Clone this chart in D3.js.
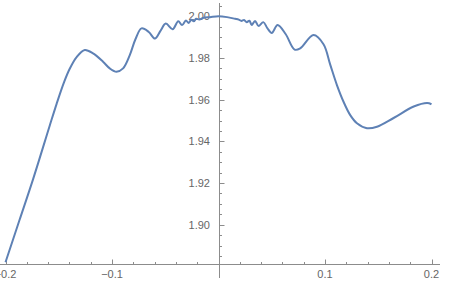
<!DOCTYPE html>
<html>
<head>
<meta charset="utf-8">
<script src="https://cdn.jsdelivr.net/npm/d3@7"></script>
<style>
  body { margin: 0; background: #fff; }
  text { font-family: "Liberation Sans", Arial, sans-serif; font-size: 11px; fill: #666; }
</style>
</head>
<body>
<div id="plot"></div>
<script>
// points
var xs = [-0.2, -0.187, -0.174, -0.1585, -0.152, -0.145, -0.1397, -0.1334, -0.1256, -0.1178,
  -0.1084, -0.1021, -0.0958, -0.0896, -0.0833, -0.078, -0.0723, -0.0655, -0.0597, -0.0545,
  -0.0495, -0.0431, -0.0378, -0.0342, -0.0306, -0.028, -0.0255, -0.0232, -0.021, -0.018,
  -0.014, -0.008, 0, 0.008, 0.0155, 0.019, 0.0215, 0.024, 0.0265, 0.029,
  0.0312, 0.0343, 0.0375, 0.0421, 0.046, 0.05, 0.0555, 0.063, 0.0715, 0.0767,
  0.0892, 0.0986, 0.1049, 0.1112, 0.1174, 0.1237, 0.13, 0.1394, 0.1488, 0.1644,
  0.1833, 0.1959, 0.2];
var ys = [1.882, 1.902, 1.922, 1.9475, 1.958, 1.9684, 1.9748, 1.9803, 1.9838, 1.9822,
  1.9782, 1.975, 1.9734, 1.975, 1.9814, 1.989, 1.9942, 1.9925, 1.9893, 1.993,
  1.9965, 1.9938, 1.9976, 1.9958, 1.998, 1.9968, 1.9984, 1.9976, 1.9988, 1.9985,
  1.9993, 1.9996, 2.0, 1.9996, 1.9988, 1.9984, 1.9978, 1.9982, 1.9972, 1.9979,
  1.9958, 1.9978, 1.9954, 1.9972, 1.9942, 1.992, 1.9958, 1.9915, 1.984, 1.9846,
  1.991, 1.9866, 1.9768, 1.967, 1.959, 1.9526, 1.9487, 1.9463, 1.947, 1.9512,
  1.9567, 1.9584, 1.9578];

var xTicks = [-0.2, -0.1, 0.1, 0.2];
var xLabels = ["\u22120.2", "\u22120.1", "0.1", "0.2"];
var yTicks = [1.90, 1.92, 1.94, 1.96, 1.98, 2.00];

var width = 450, height = 292;

var x = d3.scaleLinear().domain([-0.2, 0.2]).range([5.5, 431.5]);
var y = d3.scaleLinear().domain([1.881, 2.0]).range([264.3, 16.3]);

var data = xs.map(function (d, i) { return { x: d, y: ys[i] }; });

var svg = d3.select("#plot")
  .append("svg")
  .attr("width", width)
  .attr("height", height);

var axisColor = "#8c8c8c";
var x0 = Math.round(x(0)) + 0.5;
var yAxisPos = Math.round(y(1.881)) + 0.5;

// x axis
svg.append("line")
  .attr("x1", 0).attr("x2", 440)
  .attr("y1", yAxisPos).attr("y2", yAxisPos)
  .attr("stroke", axisColor);

var xMinor = d3.range(-0.2, 0.2001, 0.02).filter(function (d) {
  return Math.abs(d) > 1e-6 && Math.abs(Math.abs(d) - 0.1) > 1e-6 && Math.abs(Math.abs(d) - 0.2) > 1e-6;
});

svg.selectAll(".xminor")
  .data(xMinor)
  .enter()
  .append("line")
  .attr("x1", function (d) { return Math.round(x(d)) + 0.5; })
  .attr("x2", function (d) { return Math.round(x(d)) + 0.5; })
  .attr("y1", yAxisPos).attr("y2", yAxisPos - 2.5)
  .attr("stroke", axisColor);

svg.selectAll(".xmajor")
  .data(xTicks)
  .enter()
  .append("line")
  .attr("x1", function (d) { return Math.round(x(d)) + 0.5; })
  .attr("x2", function (d) { return Math.round(x(d)) + 0.5; })
  .attr("y1", yAxisPos).attr("y2", yAxisPos - 5)
  .attr("stroke", axisColor);

svg.selectAll(".xlabel")
  .data(xTicks)
  .enter()
  .append("text")
  .attr("x", function (d) { return x(d); })
  .attr("y", 278)
  .attr("text-anchor", "middle")
  .text(function (d, i) { return xLabels[i]; });

// y axis
svg.append("line")
  .attr("x1", x0).attr("x2", x0)
  .attr("y1", 3).attr("y2", 278)
  .attr("stroke", axisColor);

var yMinor = d3.range(1.885, 2.0051, 0.005).filter(function (d) {
  return Math.abs(Math.round(d * 50) - d * 50) > 1e-6;
});

svg.selectAll(".yminor")
  .data(yMinor)
  .enter()
  .append("line")
  .attr("x1", x0).attr("x2", x0 + 2.5)
  .attr("y1", function (d) { return Math.round(y(d)) + 0.5; })
  .attr("y2", function (d) { return Math.round(y(d)) + 0.5; })
  .attr("stroke", axisColor);

svg.selectAll(".ymajor")
  .data(yTicks)
  .enter()
  .append("line")
  .attr("x1", x0).attr("x2", x0 + 5)
  .attr("y1", function (d) { return Math.round(y(d)) + 0.5; })
  .attr("y2", function (d) { return Math.round(y(d)) + 0.5; })
  .attr("stroke", axisColor);

svg.selectAll(".ylabel")
  .data(yTicks)
  .enter()
  .append("text")
  .attr("x", 210)
  .attr("y", function (d) { return y(d) + 4; })
  .attr("text-anchor", "end")
  .text(function (d) { return d.toFixed(2); });

// the curve
var valueline = d3.line()
  .x(function (d) { return x(d.x); })
  .y(function (d) { return y(d.y); })
  .curve(d3.curveCatmullRom.alpha(0.5));

svg.append("path")
  .datum(data)
  .attr("d", valueline)
  .attr("fill", "none")
  .attr("stroke", "#5E81B5")
  .attr("stroke-width", 2)
  .attr("stroke-linejoin", "round");
</script>
</body>
</html>
